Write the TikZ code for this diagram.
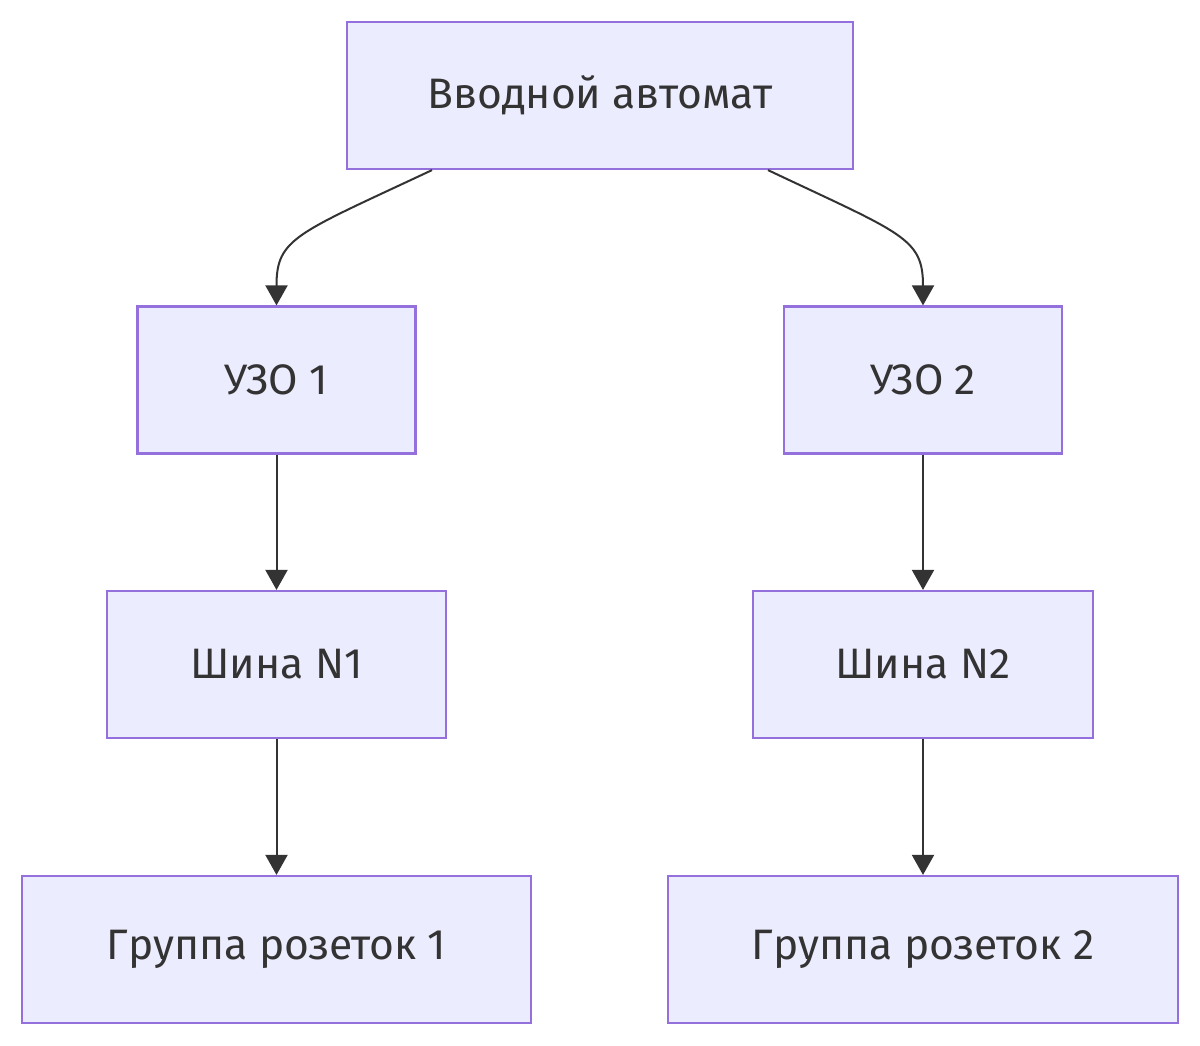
\documentclass[tikz,border=0pt]{standalone}
\usepackage{fontspec}
\setmainfont{Fira Sans}
\usetikzlibrary{arrows.meta}

\definecolor{boxfill}{HTML}{ECECFF}
\definecolor{boxline}{HTML}{9370DB}
\definecolor{ink}{HTML}{333333}

\tikzset{
  unit/.style={draw=boxline,fill=boxfill,line width=1.1pt,text=ink,
    minimum height=73.5pt,inner sep=0pt,font=\fontsize{21.3}{25}\selectfont},
  edge/.style={draw=ink,line width=1pt,-{Triangle[length=10pt,width=11pt]}}
}

\begin{document}
\begin{tikzpicture}[x=0.5pt,y=-0.5pt]
  \useasboundingbox (0,0) rectangle (1200,1045);

  % Щиток: ввод и две ветки
  \node[unit,minimum width=253pt] (vvod) at (600,95.5) {Вводной автомат};
  \node[unit,minimum width=139pt] (uzo1) at (276.5,380) {УЗО 1};
  \node[unit,minimum width=139pt] (uzo2) at (923,380) {УЗО 2};
  \node[unit,minimum width=169.5pt] (shina1) at (276.5,664.5) {Шина N1};
  \node[unit,minimum width=170pt] (shina2) at (923,664.5) {Шина N2};
  \node[unit,minimum width=254.5pt] (gr1) at (276.5,949.5) {Группа розеток 1};
  \node[unit,minimum width=255pt] (gr2) at (923,949.5) {Группа розеток 2};

  % Связи
  \draw[edge] ([xshift=-84pt]vvod.south) .. controls (296,234) and (276.5,238) .. (uzo1.north);
  \draw[edge] ([xshift=84pt]vvod.south) .. controls (903,234) and (923,238) .. (uzo2.north);
  \draw[edge] (uzo1) -- (shina1);
  \draw[edge] (uzo2) -- (shina2);
  \draw[edge] (shina1) -- (gr1);
  \draw[edge] (shina2) -- (gr2);
\end{tikzpicture}
\end{document}
